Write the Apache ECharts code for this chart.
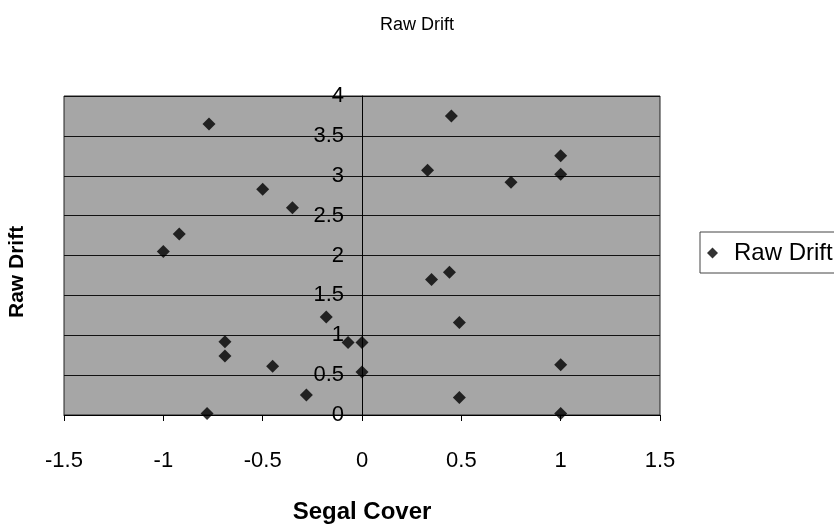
<!DOCTYPE html>
<html><head><meta charset="utf-8">
<script src="https://cdn.jsdelivr.net/npm/echarts@6/dist/echarts.min.js"></script>
<style>html,body{margin:0;padding:0;background:#fff}#c{width:834px;height:527px}</style>
</head><body><div id="c"></div>
<script>
const segalCover = [-0.77,-0.5,-0.35,-0.92,-1.0,-0.18,-0.69,-0.69,-0.45,-0.28,-0.78,-0.07,0,0,0.45,1.0,1.0,0.33,0.75,0.44,0.35,0.49,1.0,0.49,1.0];
const rawDrift   = [3.65,2.83,2.6,2.27,2.05,1.23,0.92,0.74,0.61,0.25,0.02,0.91,0.91,0.54,3.75,3.25,3.02,3.07,2.92,1.79,1.7,1.16,0.63,0.22,0.02];
const xTicks = [-1.5,-1,-0.5,0,0.5,1,1.5];
const yTicks = [0,0.5,1,1.5,2,2.5,3,3.5,4];
const seriesName = 'Raw Drift';
const FONT = '"Liberation Sans Narrow","Liberation Sans",Arial,sans-serif';
const points = segalCover.map((x,i)=>[x, rawDrift[i]]);
const chart = echarts.init(document.getElementById('c'));
chart.setOption({
  animation:false,
  backgroundColor:'#fff',
  title:{text:'Raw Drift', left:'center', top:11, textStyle:{fontFamily:FONT, fontWeight:'normal', fontSize:18, color:'#000'}},
  legend:{left:700, top:232, orient:'vertical', itemWidth:11, itemHeight:11, itemGap:0, borderColor:'#444', borderWidth:1, padding:[9,40,8,7], borderRadius:0,
    textStyle:{fontFamily:FONT, fontSize:24, color:'#000', padding:[0,0,0,11]}, data:[{name:seriesName, icon:'diamond'}]},
  grid:{left:64, right:174, top:96, bottom:112, show:true, backgroundColor:'#a6a6a6', borderColor:'#222', borderWidth:1},
  xAxis:{type:'value', min:-1.5, max:1.5, interval:0.5,
    axisLine:{onZero:false, lineStyle:{color:'#000'}},
    axisTick:{show:true, length:6, lineStyle:{color:'#000'}},
    splitLine:{show:false},
    axisLabel:{margin:35, fontFamily:FONT, fontSize:22, color:'#000', formatter:v=>String(v)}},
  yAxis:{type:'value', min:0, max:4, interval:0.5, offset:-298,
    axisLine:{show:true, onZero:false, lineStyle:{color:'#000'}},
    axisTick:{show:false},
    splitLine:{show:true, lineStyle:{color:'#111', width:1}},
    axisLabel:{margin:18, fontFamily:FONT, fontSize:22, color:'#000', formatter:v=>String(v)}},
  graphic:[
    {type:'text', x:362, y:512, style:{text:'Segal Cover', fontFamily:FONT, fontWeight:'bold', fontSize:24, fill:'#000', textAlign:'center', textVerticalAlign:'middle'}},
    {type:'text', x:7, y:318, rotation:Math.PI/2, style:{text:'Raw Drift', fontFamily:FONT, fontWeight:'bold', fontSize:21, fill:'#000'}}
  ],
  series:[{name:seriesName, type:'scatter', symbol:'diamond', symbolSize:13, itemStyle:{color:'#000'}, data:points, z:5}]
});
</script></body></html>
